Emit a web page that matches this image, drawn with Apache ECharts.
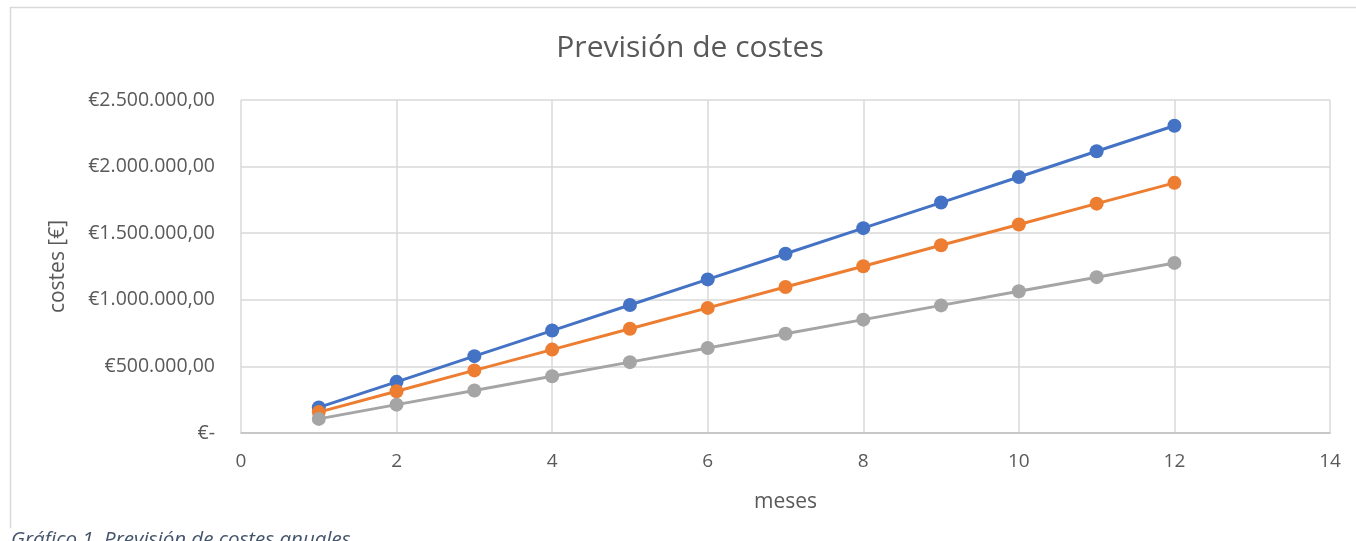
<!DOCTYPE html>
<html>
<head>
<meta charset="utf-8">
<script src="https://cdn.jsdelivr.net/npm/echarts@6/dist/echarts.min.js"></script>
<style>
html,body{margin:0;padding:0;background:#fff;}
#chart{width:1356px;height:541px;}
</style>
</head>
<body>
<div id="chart"></div>
<script>
const meses = [1,2,3,4,5,6,7,8,9,10,11,12];
const serieAzul = [192000,384000,577000,769000,961000,1153000,1346000,1538000,1730000,1922000,2115000,2307000];
const serieNaranja = [157000,313000,470000,626000,783000,939000,1096000,1252000,1409000,1565000,1722000,1878000];
const serieGris = [106000,213000,319000,426000,532000,638000,745000,851000,958000,1064000,1170000,1277000];
const titulo = 'Previsión de costes';
const ejeX = 'meses';
const ejeY = 'costes [€]';
const leyenda = 'Gráfico 1. Previsión de costes anuales';

const FONT = '"Open Sans", sans-serif';
const TXT = '#595959';

function fmtEuro(v){
  if (v === 0) return '€-';
  const s = Math.round(v).toString().replace(/\B(?=(\d{3})+(?!\d))/g, '.');
  return '€' + s + ',00';
}
function pairs(arr){ return meses.map((m,i)=>[m, arr[i]]); }

const chart = echarts.init(document.getElementById('chart'), null, {renderer:'canvas'});
const mk = (name, color, data) => ({
  name, type:'line', data: pairs(data),
  symbol:'circle', symbolSize:14,
  lineStyle:{color, width:3},
  itemStyle:{color},
  emphasis:{disabled:true},
  z:3
});
chart.setOption({
  animation:false,
  backgroundColor:'#fff',
  title:{
    text: titulo, left: 685, textAlign:'center', top: 28,
    textStyle:{fontFamily:FONT, fontSize:30, fontWeight:'normal', color:TXT}
  },
  grid:{left:241, right:26, top:100, bottom:108, containLabel:false},
  xAxis:{
    type:'value', min:0, max:14, interval:2,
    name: ejeX, nameLocation:'middle', nameGap:59,
    nameTextStyle:{fontFamily:FONT, fontSize:21, color:TXT},
    axisLine:{show:true, lineStyle:{color:'#bfbfbf', width:1.5}},
    axisTick:{show:false},
    axisLabel:{fontFamily:FONT, fontSize:19, color:TXT, margin:19},
    splitLine:{show:true, lineStyle:{color:'#d9d9d9', width:1.5}}
  },
  yAxis:{
    type:'value', min:0, max:2500000, interval:500000,
    name: ejeY, nameLocation:'middle', nameGap:172, nameRotate:90,
    nameTextStyle:{fontFamily:FONT, fontSize:21, color:TXT},
    axisLine:{show:false},
    axisTick:{show:false},
    axisLabel:{fontFamily:FONT, fontSize:19.5, color:TXT, margin:26, formatter: fmtEuro},
    splitLine:{show:true, lineStyle:{color:'#d9d9d9', width:1.5}}
  },
  series:[
    mk('Serie 1', '#4472C4', serieAzul),
    mk('Serie 2', '#ED7D31', serieNaranja),
    mk('Serie 3', '#A5A5A5', serieGris)
  ],
  graphic:[
    {type:'polyline', silent:true, shape:{points:[[10.5,528],[10.5,7.5],[1360,7.5]]},
     style:{stroke:'#d9d9d9', lineWidth:1.5, fill:null}},
    {type:'text', left:11, top:530, silent:true,
     style:{text: leyenda, fill:'#44546A', font:'italic 20.5px "Open Sans", sans-serif'}}
  ]
});
</script>
</body>
</html>
